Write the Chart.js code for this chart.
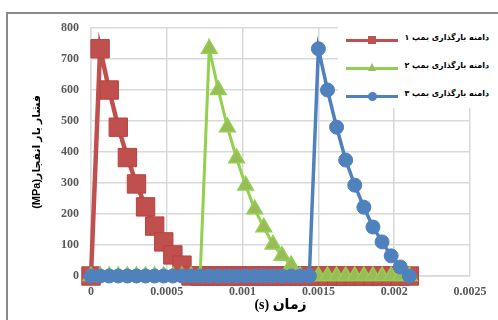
<!DOCTYPE html>
<html>
<head>
<meta charset="utf-8">
<script src="https://cdn.jsdelivr.net/npm/chart.js@4/dist/chart.umd.min.js"></script>
<style>
html,body{margin:0;padding:0;background:#fff;overflow:hidden;}
#wrap{position:relative;width:498px;height:320px;}
#frame{position:absolute;left:6px;top:12px;width:600px;height:400px;border-left:2px solid #8a8a8a;border-top:2px solid #8a8a8a;}
#c{position:absolute;left:0;top:0;}
#legend{position:absolute;left:338px;top:15px;width:160px;height:93px;background:#fff;}
.item{position:absolute;left:0;width:160px;height:20px;}
.ln{position:absolute;left:8px;width:52px;height:3px;top:9px;}
.mk{position:absolute;}
.tx{position:absolute;right:9px;top:3px;direction:rtl;font:bold 8px "DejaVu Sans",sans-serif;color:#000;white-space:nowrap;}
</style>
</head>
<body>
<div id="wrap">
<div id="frame"></div>
<canvas id="c" width="498" height="320" dir="rtl"></canvas>
<div id="legend"></div>
</div>
<script>
const times = [0, 0.00006, 0.00012, 0.00018, 0.00024, 0.0003, 0.00036, 0.00042, 0.00048, 0.00054, 0.0006, 0.00066,
  0.00072, 0.00078, 0.00084, 0.0009, 0.00096, 0.00102, 0.00108, 0.00114, 0.0012, 0.00126, 0.00132, 0.00138,
  0.00144, 0.0015, 0.00156, 0.00162, 0.00168, 0.00174, 0.0018, 0.00186, 0.00192, 0.00198, 0.00204, 0.0021];
const pump1 = [0, 733, 600, 480, 382, 297, 223, 161, 110, 68, 35, 0,
  0, 0, 0, 0, 0, 0, 0, 0, 0, 0, 0, 0,
  0, 0, 0, 0, 0, 0, 0, 0, 0, 0, 0, 0];
const pump2 = [0, 0, 0, 0, 0, 0, 0, 0, 0, 0, 0, 0,
  0, 733, 600, 480, 380, 292, 215, 157, 102, 65, 35, 0,
  0, 0, 0, 0, 0, 0, 0, 0, 0, 0, 0, 0];
const pump3 = [0, 0, 0, 0, 0, 0, 0, 0, 0, 0, 0, 0,
  0, 0, 0, 0, 0, 0, 0, 0, 0, 0, 0, 0,
  0, 733, 600, 480, 374, 293, 222, 158, 110, 65, 29, 0];
const seriesNames = ["دامنه بارگذاری بمپ ۱", "دامنه بارگذاری بمپ ۲", "دامنه بارگذاری بمپ ۳"];
const xTitle = "زمان (s)";
const yTitle = "فشار بار انفجار(MPa)";
const xTicks = [0, 0.0005, 0.001, 0.0015, 0.002, 0.0025];
const yTicks = [0, 100, 200, 300, 400, 500, 600, 700, 800];

const pts = arr => arr.map((v, i) => ({x: times[i], y: v}));
const tickFont = {family: '"Liberation Serif", serif', size: 12, weight: 'bold'};

new Chart(document.getElementById('c'), {
  type: 'scatter',
  data: {
    datasets: [
      {label: seriesNames[0], data: pts(pump1), showLine: true, order: 3, clip: false,
       borderColor: '#C0504D', borderWidth: 4.5, pointStyle: 'rect', pointRadius: 13,
       pointBackgroundColor: '#C0504D', pointBorderColor: '#B9423E', pointBorderWidth: 1},
      {label: seriesNames[1], data: pts(pump2), showLine: true, order: 2, clip: false,
       borderColor: '#92D050', borderWidth: 3, pointStyle: 'triangle', pointRadius: 9,
       pointBackgroundColor: '#9BBB59', pointBorderColor: '#92D050', pointBorderWidth: 1.5},
      {label: seriesNames[2], data: pts(pump3), showLine: true, order: 1, clip: false,
       borderColor: '#4F81BD', borderWidth: 3.5, pointStyle: 'circle', pointRadius: 7,
       pointBackgroundColor: '#4F81BD', pointBorderColor: '#4F81BD', pointBorderWidth: 1}
    ]
  },
  options: {
    responsive: false, animation: false,
    layout: {padding: {left: 0, top: 28, right: 28, bottom: 0}},
    plugins: {legend: {display: false}, tooltip: {enabled: false}},
    scales: {
      x: {
        type: 'linear', min: 0, max: 0.0025,
        afterBuildTicks: s => { s.ticks = xTicks.map(v => ({value: v})); },
        afterFit: s => { s.height = 44; },
        grid: {color: '#D9D9D9', lineWidth: 1.5, drawTicks: false},
        border: {color: '#D9D9D9', width: 1.5},
        ticks: {font: tickFont, color: '#595959', padding: 9, maxRotation: 0,
                callback: v => String(+Number(v).toFixed(4))},
        title: {display: true, text: xTitle, color: '#000',
                font: {family: '"Liberation Serif", "DejaVu Sans", serif', size: 14, weight: 'bold'},
                padding: {top: 0, bottom: 6}}
      },
      y: {
        type: 'linear', min: 0, max: 800,
        afterBuildTicks: s => { s.ticks = yTicks.map(v => ({value: v})); },
        afterFit: s => { s.width = 91; },
        grid: {color: '#D9D9D9', lineWidth: 1.5, drawTicks: false},
        border: {color: '#D9D9D9', width: 1.5},
        ticks: {font: tickFont, color: '#595959', padding: 12},
        title: {display: true, text: yTitle, color: '#000',
                font: {family: '"Liberation Sans", "DejaVu Sans", sans-serif', size: 11, weight: 'bold'},
                padding: {top: 30, bottom: 0}}
      }
    }
  }
});

// legend overlay
const legendColors = [['#C0504D', 'rect'], ['#92D050', 'tri'], ['#4F81BD', 'circ']];
const lg = document.getElementById('legend');
const rowsY = [15, 43, 71];
seriesNames.forEach((name, i) => {
  const it = document.createElement('div');
  it.className = 'item';
  it.style.top = rowsY[i] + 'px';
  const ln = document.createElement('div');
  ln.className = 'ln';
  ln.style.background = legendColors[i][0];
  it.appendChild(ln);
  const mk = document.createElement('div');
  mk.className = 'mk';
  if (legendColors[i][1] === 'rect') {
    Object.assign(mk.style, {left: '30px', top: '6px', width: '8px', height: '8px', background: '#C0504D'});
  } else if (legendColors[i][1] === 'tri') {
    Object.assign(mk.style, {left: '30px', top: '5px', width: '0', height: '0',
      borderLeft: '4.5px solid transparent', borderRight: '4.5px solid transparent', borderBottom: '8px solid #9BBB59'});
  } else {
    Object.assign(mk.style, {left: '30px', top: '6px', width: '9px', height: '9px', borderRadius: '50%', background: '#4F81BD'});
  }
  it.appendChild(mk);
  const tx = document.createElement('div');
  tx.className = 'tx';
  tx.textContent = name;
  it.appendChild(tx);
  lg.appendChild(it);
});
</script>
</body>
</html>
